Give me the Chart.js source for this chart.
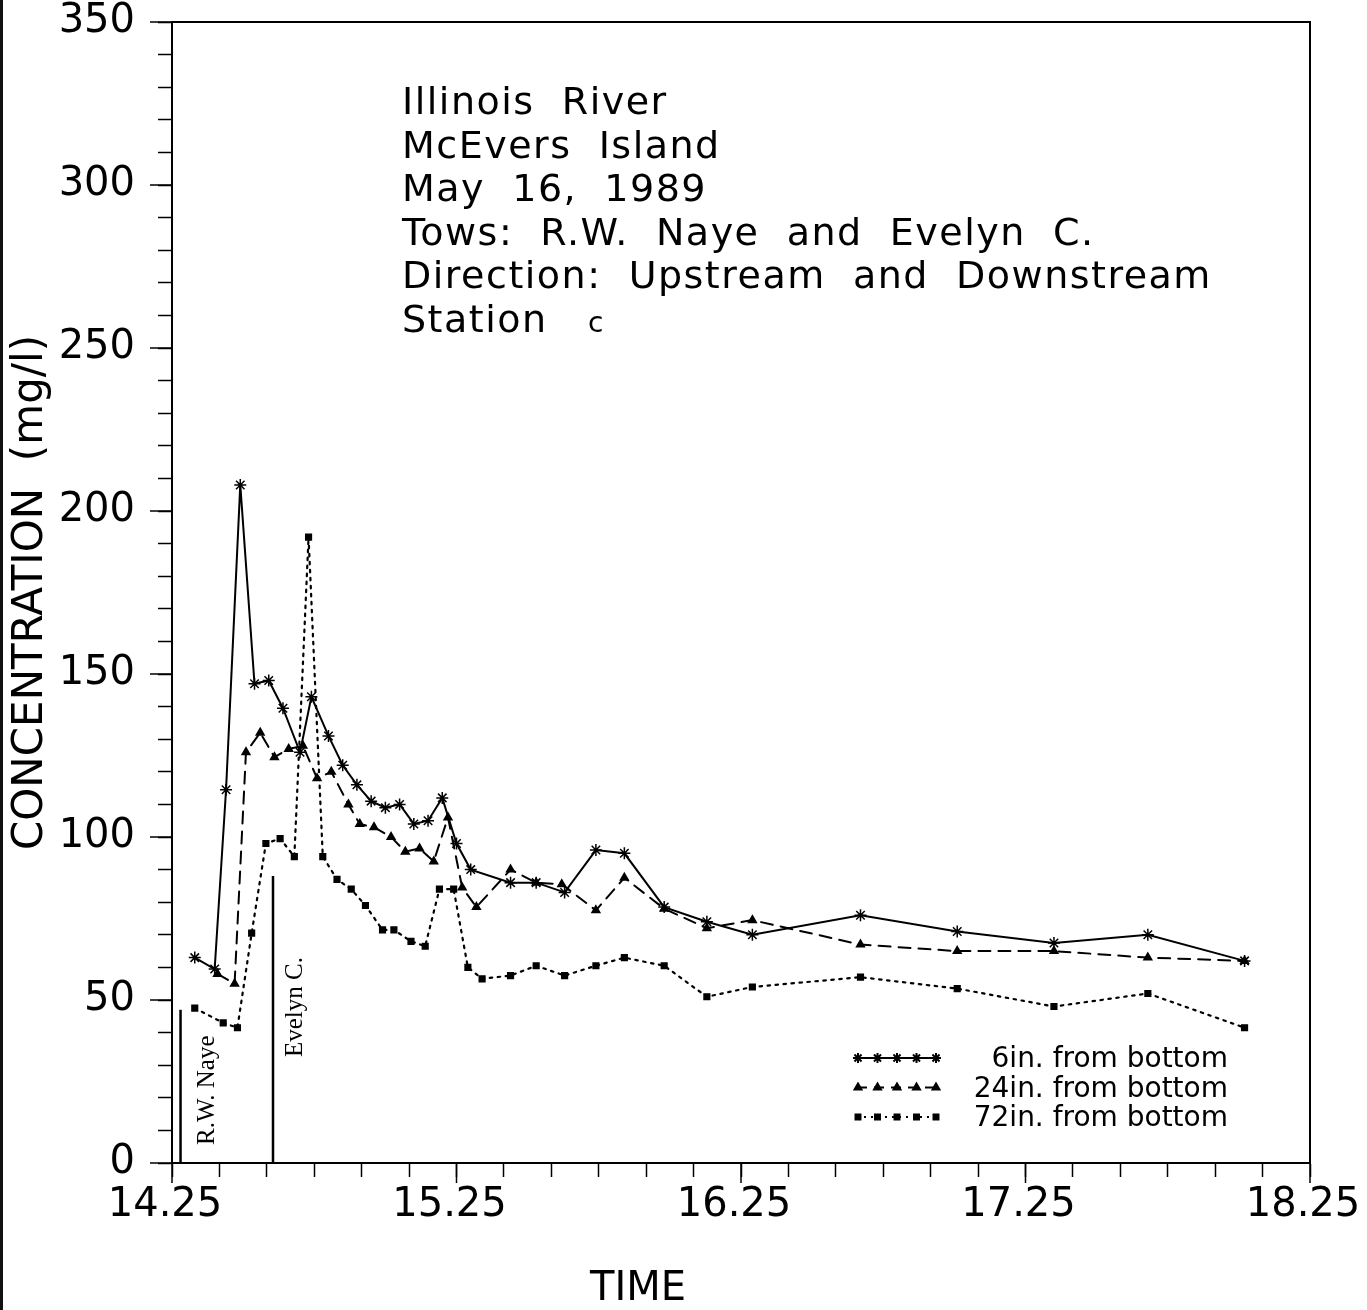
<!DOCTYPE html>
<html>
<head>
<meta charset="utf-8">
<title>Illinois River - McEvers Island</title>
<script src="https://cdn.jsdelivr.net/npm/chart.js@4.4.0/dist/chart.umd.min.js"></script>
<style>
  html, body { margin: 0; padding: 0; background: #fff; }
  #wrap { position: relative; width: 1367px; height: 1310px; }
  #edge { position: absolute; left: 0; top: 0; width: 3px; height: 1310px; background: #111; }
</style>
</head>
<body>
<div id="wrap">
  <canvas id="chart" width="1367" height="1310"></canvas>
  <div id="edge"></div>
</div>
<script>
// ─── DATA ──────────────────────────────────────────────────
// time in decimal hours, concentration in mg/l
const t6  = [14.33, 14.40, 14.44, 14.49, 14.54, 14.59, 14.64, 14.70, 14.74, 14.80, 14.85, 14.90, 14.95, 15.00, 15.05, 15.10, 15.15,
             15.20, 15.25, 15.30, 15.44, 15.53, 15.63, 15.74, 15.84, 15.98, 16.13, 16.29, 16.67, 17.01, 17.35, 17.68, 18.02];
const v6  = [63, 59.5, 114.5, 208, 147, 148, 139.5, 126, 143, 131, 122, 116, 111, 109, 110, 104, 105,
             112, 98, 90, 86, 86, 83, 96, 95, 78.5, 74, 70, 76, 71, 67.5, 70, 62];

const t24 = [14.41, 14.47, 14.51, 14.56, 14.61, 14.66, 14.71, 14.76, 14.81, 14.87, 14.91, 14.96, 15.02, 15.07, 15.12, 15.17,
             15.22, 15.27, 15.32, 15.44, 15.53, 15.62, 15.74, 15.84, 15.98, 16.13, 16.29, 16.67, 17.01, 17.35, 17.68, 18.02];
const v24 = [58, 55, 126, 132, 124.5, 127, 128, 118, 120, 110, 104, 103, 100, 95.5, 96.5, 92.5,
             106, 84.5, 78.5, 90, 86, 85.5, 77.5, 87.5, 78, 72, 74.5, 67, 65, 65, 63, 62];

const t72 = [14.33, 14.43, 14.48, 14.53, 14.58, 14.63, 14.68, 14.73, 14.78, 14.83, 14.88, 14.93, 14.99, 15.03, 15.09, 15.14, 15.19,
             15.24, 15.29, 15.34, 15.44, 15.53, 15.63, 15.74, 15.84, 15.98, 16.13, 16.29, 16.67, 17.01, 17.35, 17.68, 18.02];
const v72 = [47.5, 43, 41.5, 70.5, 98, 99.5, 94, 192, 94, 87, 84, 79, 71.5, 71.5, 68, 66.5, 84,
             84, 60, 56.5, 57.5, 60.5, 57.5, 60.5, 63, 60.5, 51, 54, 57, 53.5, 48, 52, 41.5];

const seriesNames = ['6in. from bottom', '24in. from bottom', '72in. from bottom'];

// tow passages: name, time, marker height
const towNames   = ['R.W. Naye', 'Evelyn C.'];
const towTimes   = [14.28, 14.605];
const towHeights = [47, 88];

const xTickLabels = ['14.25', '15.25', '16.25', '17.25', '18.25'];
const yTickLabels = ['0', '50', '100', '150', '200', '250', '300', '350'];
const xTitle = 'TIME';
const yTitle = 'CONCENTRATION  (mg/l)';

const infoLines = ['Illinois  River', 'McEvers  Island', 'May  16,  1989',
                   'Tows:  R.W.  Naye  and  Evelyn  C.', 'Direction:  Upstream  and  Downstream', 'Station'];
const stationId = 'c';

// ─── HELPERS ───────────────────────────────────────────────
const pts = (ts, vs) => ts.map((t, i) => ({ x: t, y: vs[i] }));
const FONT = '"DejaVu Sans", sans-serif';

// x ticks every 10 minutes
const xMin = +xTickLabels[0], xMax = +xTickLabels[xTickLabels.length - 1];
const xTickValues = [];
for (let i = 0; i <= (xMax - xMin) * 6; i++) xTickValues.push(xMin + i / 6);

// drop the label-overflow padding so the plot box lands where the layout says
const noOverflow = s => { s.paddingLeft = 0; s.paddingRight = 0; s.paddingTop = 0; s.paddingBottom = 0; };

// ─── OVERLAY: frame, long ticks, tows, text block, legend ──
const overlay = {
  id: 'overlay',
  afterDraw(chart) {
    const { ctx, chartArea: a, scales: { x, y } } = chart;
    ctx.save();
    ctx.strokeStyle = '#000';
    ctx.fillStyle = '#000';

    // top + right frame
    ctx.lineWidth = 2;
    ctx.beginPath();
    ctx.moveTo(a.left, a.top);
    ctx.lineTo(a.right, a.top);
    ctx.lineTo(a.right, a.bottom);
    ctx.stroke();

    // long ticks at labelled values
    ctx.lineWidth = 1.5;
    yTickLabels.forEach(l => {
      const py = y.getPixelForValue(+l);
      ctx.beginPath(); ctx.moveTo(a.left - 22, py); ctx.lineTo(a.left, py); ctx.stroke();
    });
    xTickLabels.forEach(l => {
      const px = x.getPixelForValue(+l);
      ctx.beginPath(); ctx.moveTo(px, a.bottom); ctx.lineTo(px, a.bottom + 20); ctx.stroke();
    });

    // x title sits left of centre in the original
    ctx.font = '40px ' + FONT;
    ctx.textAlign = 'center';
    ctx.textBaseline = 'middle';
    ctx.fillText(xTitle, 638, 1290);

    // tow passage markers
    ctx.lineWidth = 2.5;
    ctx.font = '25px "Liberation Serif", serif';
    ctx.textAlign = 'left';
    towNames.forEach((name, i) => {
      const px = x.getPixelForValue(towTimes[i]);
      ctx.beginPath();
      ctx.moveTo(px, y.getPixelForValue(0));
      ctx.lineTo(px, y.getPixelForValue(towHeights[i]));
      ctx.stroke();
      ctx.save();
      ctx.translate(px + (i === 0 ? 27 : 22), a.bottom - (i === 0 ? 18 : 106));
      ctx.rotate(-Math.PI / 2);
      ctx.fillText(name, 0, 0);
      ctx.restore();
    });

    // info block
    ctx.font = '38px ' + FONT;
    ctx.letterSpacing = '1.5px';
    ctx.textBaseline = 'alphabetic';
    infoLines.forEach((line, i) => ctx.fillText(line, 402, 114 + i * 43.5));
    ctx.font = '28px ' + FONT;
    ctx.fillText(stationId, 588, 114 + 5 * 43.5);
    ctx.letterSpacing = '0px';

    // legend
    const styles = [
      { dash: [],      style: 'star',     r: 5,   w: 1.5 },
      { dash: [10, 7], style: 'triangle', r: 4,   w: 1 },
      { dash: [2, 5],  style: 'rect',     r: 3.5, w: 1 },
    ];
    ctx.font = '28px ' + FONT;
    ctx.textAlign = 'right';
    ctx.textBaseline = 'middle';
    seriesNames.forEach((name, i) => {
      const ly = 1058 + i * 29.5;
      const s = styles[i];
      ctx.lineWidth = 2;
      ctx.setLineDash(s.dash);
      ctx.beginPath(); ctx.moveTo(857, ly); ctx.lineTo(936, ly); ctx.stroke();
      ctx.setLineDash([]);
      for (let k = 0; k < 5; k++) {
        Chart.helpers.drawPoint(ctx, { pointStyle: s.style, radius: s.r, rotation: 0, borderWidth: s.w }, 858 + k * 19.5, ly);
      }
      ctx.fillText(name, 1228, ly + 2);
    });

    ctx.restore();
  }
};

// ─── CHART ─────────────────────────────────────────────────
const ds = (label, data, dash, style, r, w) => ({
  label, data,
  borderColor: '#000', backgroundColor: '#000',
  borderWidth: w, borderDash: dash, borderCapStyle: 'round',
  pointStyle: style, pointRadius: r, pointBorderWidth: 1.5,
  pointBorderColor: '#000', pointBackgroundColor: '#000',
  tension: 0, fill: false,
});

new Chart(document.getElementById('chart'), {
  type: 'line',
  data: {
    datasets: [
      ds(seriesNames[0], pts(t6, v6),   [],         'star',     6,   2),
      ds(seriesNames[1], pts(t24, v24), [12, 8],    'triangle', 4.5, 2),
      ds(seriesNames[2], pts(t72, v72), [2.5, 5.5], 'rect',     4,   2.2),
    ],
  },
  options: {
    responsive: false,
    animation: false,
    layout: { padding: { left: 0, top: 22, right: 57, bottom: 0 } },
    plugins: { legend: { display: false }, tooltip: { enabled: false } },
    scales: {
      x: {
        type: 'linear', min: xMin, max: xMax,
        afterBuildTicks: s => { s.ticks = xTickValues.map(v => ({ value: v })); },
        afterFit: s => { s.height = 147; noOverflow(s); },
        grid: { drawOnChartArea: false, drawTicks: true, tickLength: 14, color: '#000', tickWidth: 1.5 },
        border: { display: true, color: '#000', width: 2 },
        ticks: {
          autoSkip: false, maxRotation: 0, padding: 5, labelOffset: -7, color: '#000',
          font: { family: FONT, size: 40 },
          callback: (v, i) => (i % 6 === 0 ? xTickLabels[i / 6] : ''),
        },
        title: { display: false },
      },
      y: {
        type: 'linear', min: 0, max: 350,
        ticks: {
          stepSize: 10, autoSkip: false, padding: 23, color: '#000',
          font: { family: FONT, size: 40 },
          callback: v => (v % 50 === 0 ? yTickLabels[v / 50] : ''),
        },
        afterFit: s => { s.width = 172; noOverflow(s); },
        grid: { drawOnChartArea: false, drawTicks: true, tickLength: 14, color: '#000', tickWidth: 1.5 },
        border: { display: true, color: '#000', width: 2 },
        title: { display: true, text: yTitle, color: '#000', font: { family: FONT, size: 42 }, padding: { top: 6, bottom: 0 } },
      },
    },
  },
  plugins: [overlay],
});
</script>
</body>
</html>
